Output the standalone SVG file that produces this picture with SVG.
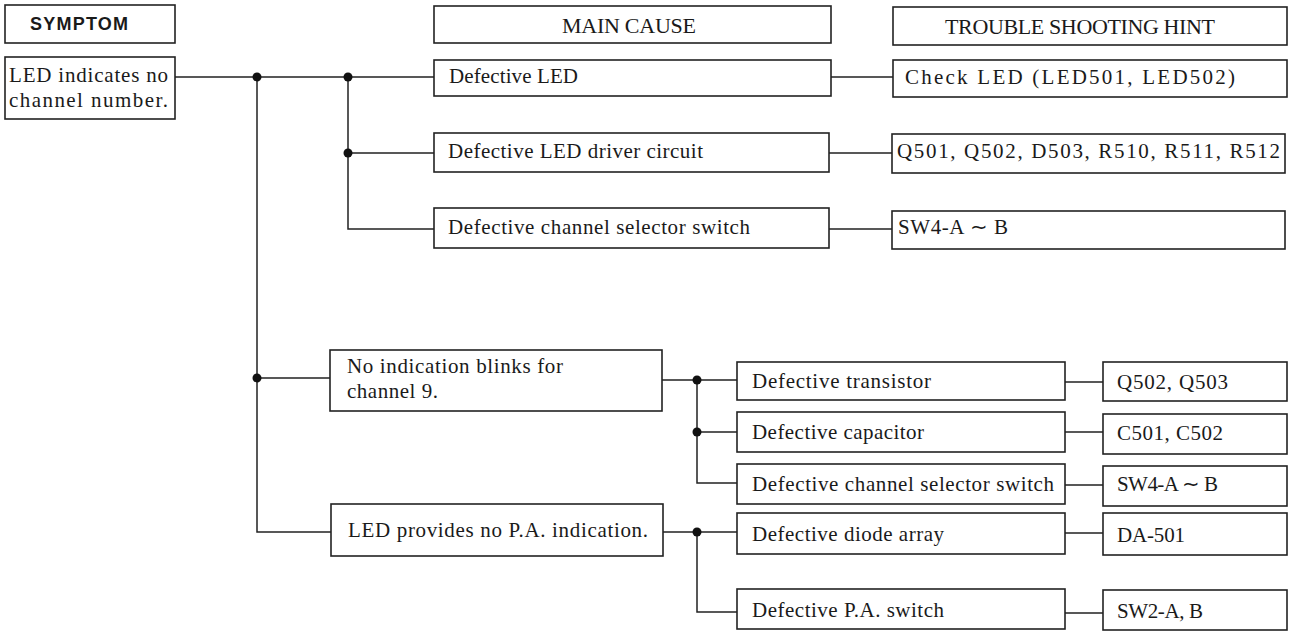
<svg xmlns="http://www.w3.org/2000/svg" width="1292" height="632" viewBox="0 0 1292 632">
<style>
.box{fill:#fff;stroke:#222;stroke-width:1.6}
.t{font-family:"Liberation Serif","Times New Roman",serif;font-size:21px;fill:#1a1a1a}
.h{font-family:"Liberation Serif","Times New Roman",serif;font-size:22px;fill:#1a1a1a}
.hb{font-family:"Liberation Sans",Arial,sans-serif;font-size:18px;font-weight:bold;fill:#1a1a1a}
.ln{fill:none;stroke:#222;stroke-width:1.5}
.dot{fill:#111}
</style>
<rect width="1292" height="632" fill="#fff"/>
<g id="connectors">
<path class="ln" d="M175,77H434M348,77V229H434M348,153H434M257,77V532H331M257,378H330"/>
<path class="ln" d="M831,77H893M829,153H892M829,229H892"/>
<path class="ln" d="M662,380H737M697,380V483H737M697,432H737"/>
<path class="ln" d="M663,532H737M697,532V612H737"/>
<path class="ln" d="M1065,382H1103M1065,432H1103M1065,485H1103M1065,533H1103M1065,613H1103"/>
<circle class="dot" cx="257" cy="77" r="4.5"/>
<circle class="dot" cx="348" cy="77" r="4.5"/>
<circle class="dot" cx="348" cy="153" r="4.5"/>
<circle class="dot" cx="257" cy="378" r="4.5"/>
<circle class="dot" cx="697" cy="380" r="4.5"/>
<circle class="dot" cx="697" cy="432" r="4.5"/>
<circle class="dot" cx="697" cy="532" r="4.5"/>
</g>
<g id="hdr-symptom"><rect class="box" x="5" y="5" width="170" height="38"/><text class="hb" x="30" y="30" textLength="98" lengthAdjust="spacing">SYMPTOM</text></g>
<g id="hdr-cause"><rect class="box" x="434" y="6" width="397" height="37"/><text class="h" x="562" y="33" textLength="134" lengthAdjust="spacing">MAIN CAUSE</text></g>
<g id="hdr-hint"><rect class="box" x="893" y="7" width="394" height="38"/><text class="h" x="945" y="34" textLength="270" lengthAdjust="spacing">TROUBLE SHOOTING HINT</text></g>
<g id="symptom"><rect class="box" x="5" y="57" width="170" height="62"/><text class="t" x="9" y="82" textLength="159" lengthAdjust="spacing">LED indicates no</text><text class="t" x="9" y="107" textLength="159" lengthAdjust="spacing">channel number.</text></g>
<g id="c1"><rect class="box" x="434" y="60" width="397" height="36"/><text class="t" x="449" y="83" textLength="129" lengthAdjust="spacing">Defective LED</text></g>
<g id="h1"><rect class="box" x="893" y="60" width="394" height="37"/><text class="t" x="905" y="84" textLength="330" lengthAdjust="spacing">Check LED (LED501, LED502)</text></g>
<g id="c2"><rect class="box" x="434" y="133" width="395" height="39"/><text class="t" x="448" y="158" textLength="255" lengthAdjust="spacing">Defective LED driver circuit</text></g>
<g id="h2"><rect class="box" x="892" y="134" width="393" height="39"/><text class="t" x="897" y="158" textLength="383" lengthAdjust="spacing">Q501, Q502, D503, R510, R511, R512</text></g>
<g id="c3"><rect class="box" x="434" y="208" width="395" height="40"/><text class="t" x="448" y="234" textLength="302" lengthAdjust="spacing">Defective channel selector switch</text></g>
<g id="h3"><rect class="box" x="892" y="211" width="393" height="38"/><text class="t" x="898" y="234" textLength="110" lengthAdjust="spacing">SW4-A ∼ B</text></g>
<g id="c4"><rect class="box" x="330" y="350" width="332" height="61"/><text class="t" x="347" y="373" textLength="216" lengthAdjust="spacing">No indication blinks for</text><text class="t" x="347" y="398" textLength="91" lengthAdjust="spacing">channel 9.</text></g>
<g id="c5"><rect class="box" x="331" y="504" width="332" height="52"/><text class="t" x="348" y="537" textLength="300" lengthAdjust="spacing">LED provides no P.A. indication.</text></g>
<g id="s1"><rect class="box" x="737" y="362" width="328" height="38"/><text class="t" x="752" y="388" textLength="179" lengthAdjust="spacing">Defective transistor</text></g>
<g id="t1"><rect class="box" x="1103" y="362" width="184" height="39"/><text class="t" x="1117" y="389" textLength="111" lengthAdjust="spacing">Q502, Q503</text></g>
<g id="s2"><rect class="box" x="737" y="412" width="328" height="40"/><text class="t" x="752" y="439" textLength="172" lengthAdjust="spacing">Defective capacitor</text></g>
<g id="t2"><rect class="box" x="1103" y="414" width="184" height="40"/><text class="t" x="1117" y="440" textLength="106" lengthAdjust="spacing">C501, C502</text></g>
<g id="s3"><rect class="box" x="737" y="464" width="328" height="40"/><text class="t" x="752" y="491" textLength="302" lengthAdjust="spacing">Defective channel selector switch</text></g>
<g id="t3"><rect class="box" x="1103" y="466" width="184" height="40"/><text class="t" x="1117" y="491" textLength="101" lengthAdjust="spacing">SW4-A ∼ B</text></g>
<g id="s4"><rect class="box" x="737" y="513" width="328" height="41"/><text class="t" x="752" y="541" textLength="192" lengthAdjust="spacing">Defective diode array</text></g>
<g id="t4"><rect class="box" x="1103" y="513" width="184" height="42"/><text class="t" x="1117" y="542" textLength="68" lengthAdjust="spacing">DA-501</text></g>
<g id="s5"><rect class="box" x="737" y="589" width="328" height="40"/><text class="t" x="752" y="617" textLength="192" lengthAdjust="spacing">Defective P.A. switch</text></g>
<g id="t5"><rect class="box" x="1103" y="590" width="184" height="40"/><text class="t" x="1117" y="618" textLength="86" lengthAdjust="spacing">SW2-A, B</text></g>
</svg>
